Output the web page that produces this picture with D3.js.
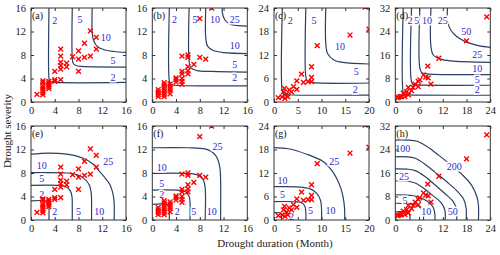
<!DOCTYPE html>
<html><head><meta charset="utf-8">
<script src="https://cdn.jsdelivr.net/npm/d3@7"></script>
<style>body{margin:0;background:#fff}svg{display:block}</style>
</head><body><svg id="chart" width="500" height="255"></svg>
<script>
// ---------------- DATA ----------------
const panelLetters = ["(a)","(b)","(c)","(d)","(e)","(f)","(g)","(h)"];
const xTicks16 = [0,4,8,12,16];
const xTicks20 = [0,5,10,15,20];
const xTicks24 = [0,6,12,18,24];
const yTicks16 = [0,4,8,12,16];
const yTicks24 = [0,6,12,18,24];
const yTicks32 = [0,8,16,24,32];
const xTitle = "Drought duration (Month)";
const yTitle = "Drought severity";

// drought events [duration, severity]
const eventsA = [[1,1.3],[2,1.2],[2,1.6],[2,2.0],[2,2.4],[2,2.8],[2,3.3],[2,3.6],
  [3,2.3],[3,2.6],[3,2.9],[3,3.2],[3,3.5],[4,3.5],[4,3.8],[4,5.2],
  [5,3.8],[5,5.6],[5,6.2],[5,6.8],[5,7.8],[5,9.0],[6,6.0],[6,6.6],[7,7.7],
  [8,5.2],[8,7.3],[8,8.7],[9,7.6],[9,10.0],[10,7.8],[10,12.1],[11,9.0],[11,11.0]];
const eventsB = [[1,0.9],[1,1.3],[1,1.7],[1,2.1],[2,0.9],[2,1.3],[2,1.7],[2,2.1],[2,2.5],[2,2.9],[2,3.3],
  [3,1.4],[3,1.9],[3,2.3],[3,2.7],[3,3.1],[4,3.4],[4,3.8],[4,4.1],
  [5,3.0],[5,3.5],[5,4.0],[5,4.8],[5,5.2],[5,7.8],[6,4.8],[6,5.3],[6,6.0],[6,7.6],[6,8.0],
  [7,6.4],[8,7.6],[8,14.2],[9,7.3],[10,16.0]];
const eventsC = [[0.9,1.1],[1.7,1.3],[2.0,2.6],[2.2,3.5],[2.3,0.9],[2.7,2.0],[2.9,1.3],[3.2,3.1],
  [3.7,2.6],[4.1,3.9],[4.8,3.2],[4.8,5.4],[5.8,7.1],[6.2,5.0],[7.2,5.2],[7.9,5.2],[7.9,6.3],
  [7.9,9.0],[9.1,14.4],[16,17.1],[19.2,24.2],[20,18.6]];
const eventsD = [[0.5,1.5],[0.8,1.6],[1.2,1.8],[1.6,1.8],[2.0,3.0],[2.4,1.8],[2.9,3.5],[3.3,2.4],
  [3.3,5.0],[4.1,3.9],[4.5,5.0],[5.0,6.1],[5.8,5.2],[5.8,7.0],[6.2,7.5],[7.1,9.2],[7.7,8.5],
  [8.3,8.2],[8.2,12.2],[9.0,6.1],[11.0,14.9],[18.0,20.8],[23.1,29.0]];

// "OR" return-period contours (top row)
const orA = [
  {level:"2",  pts:[[3.03,16],[3.03,4.0],[3.15,3.5],[3.6,3.37],[16,3.33]]},
  {level:"5",  pts:[[6.95,16],[6.95,7.5],[7.1,6.6],[7.6,6.2],[8.5,6.05],[16,5.95]]},
  {level:"10", pts:[[10.3,16],[10.3,12],[10.5,10.6],[11.2,9.4],[12.5,8.85],[14,8.6],[16,8.45]]}];
const orB = [
  {level:"2",  pts:[[2.87,16],[2.87,3.6],[3.1,3.0],[3.8,2.85],[16,2.75]]},
  {level:"5",  pts:[[6.2,16],[6.2,7],[6.5,5.8],[7.5,5.35],[10,5.2],[16,5.1]]},
  {level:"10", pts:[[9.0,16],[9.0,11],[9.3,9.5],[10.2,8.8],[12,8.4],[16,8.25]]},
  {level:"25", pts:[[11.8,16],[11.8,15.2],[12.2,14],[13,13.3],[14.5,13.0],[16,12.9]]}];
const orC = [
  {level:"2",  pts:[[1.75,24],[1.75,2.6],[2.0,2.0],[2.8,1.85],[20,1.75]]},
  {level:"5",  pts:[[6.7,24],[6.7,6.5],[7.0,5.4],[8,5.0],[20,4.85]]},
  {level:"10", pts:[[10.9,24],[10.9,15],[11.3,12.3],[12.5,10.8],[14.5,10.1],[20,9.7]]}];
const orD = [
  {level:"2",  pts:[[2.0,32],[2.0,3.2],[2.3,2.5],[3.2,2.4],[24,2.3]]},
  {level:"5",  pts:[[4.1,32],[4.1,6.8],[4.5,6.0],[5.5,5.8],[24,5.7]]},
  {level:"10", pts:[[6.2,32],[6.2,11.5],[6.7,10.0],[8,9.6],[24,9.3]]},
  {level:"25", pts:[[9.0,32],[9.0,19],[9.6,16],[11.5,14.6],[14,14.0],[24,13.5]]},
  {level:"50", pts:[[13.2,32],[13.2,27.5],[14,24.5],[15.5,22.3],[18,20.4],[21,19.2],[24,18.6]]}];

// "AND" return-period contours (bottom row)
const andE = [
  {level:"2",  pts:[[0,3.25],[2.7,3.22],[3.0,2.9],[3.03,2.0],[3.03,0]]},
  {level:"5",  pts:[[0,5.9],[4.5,5.9],[5.8,5.7],[6.6,5.0],[6.9,4.0],[6.95,2],[6.95,0]]},
  {level:"10", pts:[[0,8.05],[6,8.0],[7.8,7.7],[9.0,7.0],[9.8,6.0],[10.15,4.5],[10.2,2],[10.2,0]]},
  {level:"25", pts:[[0,11.2],[3,11.4],[6,11.2],[8.8,10.5],[10.5,9.5],[11.6,8.2],[12.6,7.0],[13.3,6.0],[13.8,4.5],[14.0,3.0],[14.0,0]]}];
const andF = [
  {level:"2",  pts:[[0,2.67],[2.3,2.65],[2.75,2.3],[2.86,1.5],[2.86,0]]},
  {level:"5",  pts:[[0,5.1],[4.5,5.05],[5.6,4.8],[6.2,4.0],[6.35,3],[6.35,0]]},
  {level:"10", pts:[[0,7.95],[6.5,7.9],[7.8,7.6],[8.6,6.8],[8.9,5.5],[8.9,0]]},
  {level:"25", pts:[[0,12.3],[6,12.3],[8.9,12.1],[10.2,11.5],[11.0,10.4],[11.4,8.8],[11.5,7],[11.5,0]]}];
const andG = [
  {level:"2",  pts:[[0,1.87],[1.1,1.85],[1.5,1.6],[1.6,1.0],[1.6,0]]},
  {level:"5",  pts:[[0,4.7],[4.5,4.65],[5.8,4.4],[6.5,3.5],[6.7,2],[6.7,0]]},
  {level:"10", pts:[[0,8.5],[5,8.45],[7.5,8.0],[9.0,6.8],[9.8,5.0],[10,3],[10,0]]},
  {level:"25", pts:[[0,18.5],[3,18.2],[6.9,16.8],[10.4,14.9],[12.2,12.6],[13.2,10.6],[14.1,8],[14.6,5.5],[14.85,3],[14.9,0]]}];
const andH = [
  {level:"2",   pts:[[0,2.8],[2.5,2.8],[3.4,2.3],[3.7,1.2],[3.7,0]]},
  {level:"5",   pts:[[0,5.7],[3,5.6],[5,5.2],[6.5,4],[7.1,2],[7.1,0]]},
  {level:"10",  pts:[[0,8.6],[3,8.5],[5.5,8],[8,6.5],[9.5,4.5],[10,2],[10,0]]},
  {level:"25",  pts:[[0,13.3],[3,13.2],[5,12.6],[7.5,10.5],[9.5,8.3],[11.5,6],[12.5,3.5],[12.6,0]]},
  {level:"50",  pts:[[0,17.4],[3,17.3],[5,16.8],[7.5,14.8],[10,12],[12.5,9],[14.5,6.5],[15.4,4],[15.5,0]]},
  {level:"100", pts:[[0,21.5],[3,21.5],[5,21],[7.5,19],[10,16.3],[13,13],[15.5,10],[17.3,7],[17.9,4],[17.9,0]]},
  {level:"200", pts:[[0,27.2],[3,27.2],[5.5,26.8],[8,25],[11,22],[14,18.8],[17,15.3],[19.3,11.8],[20.6,8],[21,5],[21,0]]}];

// contour labels [duration, severity, text]
const labA = [[4.0,13.8,"2"],[8.25,14.0,"5"],[12.6,10.9,"10"],[13.8,7.0,"5"],[13.8,4.25,"2"]];
const labB = [[3.75,14,"2"],[7.2,14,"5"],[10.55,14,"10"],[13.9,14,"25"],[13.9,9.7,"10"],[13.9,6.4,"5"],[13.9,4.2,"2"]];
const labC = [[3.4,20.9,"2"],[8.4,20.9,"5"],[13.9,14.1,"10"],[17.3,7.7,"5"],[17.1,3.1,"2"]];
const labD = [[3.7,27.9,"2"],[5.4,27.9,"5"],[8.0,27.9,"10"],[12.0,27.9,"25"],[17.9,23.9,"50"],[20.7,16.3,"25"],[20.7,11.5,"10"],[20.7,7.5,"5"],[20.7,4.1,"2"]];
const labE = [[1.8,9.2,"10"],[1.8,7.1,"5"],[1.8,4.4,"2"],[4.0,1.5,"2"],[8.0,1.4,"5"],[11.5,1.4,"10"],[13.0,9.9,"25"]];
const labF = [[1.6,8.9,"10"],[1.6,6.2,"5"],[1.6,4.3,"2"],[4.2,1.4,"2"],[7.0,1.4,"5"],[10.0,1.4,"10"],[11.0,12.5,"25"]];
const labG = [[1.8,10.2,"10"],[1.8,6.4,"5"],[3.7,0.9,"2"],[7.7,2.3,"5"],[11.9,2.3,"10"],[12.7,14.9,"25"]];
const labH = [[1.9,24.4,"100"],[2.2,14.7,"25"],[2.45,6.8,"5"],[7.8,2.8,"10"],[14.5,2.8,"50"],[14.9,18.1,"200"]];

// ---------------- LAYOUT ----------------
const panels = [
  {xd:[0,16],yd:[0,16],xt:xTicks16,yt:yTicks16,ev:eventsA,ct:orA,lab:labA},
  {xd:[0,16],yd:[0,16],xt:xTicks16,yt:yTicks16,ev:eventsB,ct:orB,lab:labB},
  {xd:[0,20],yd:[0,24],xt:xTicks20,yt:yTicks24,ev:eventsC,ct:orC,lab:labC},
  {xd:[0,24],yd:[0,32],xt:xTicks24,yt:yTicks32,ev:eventsD,ct:orD,lab:labD},
  {xd:[0,16],yd:[0,16],xt:xTicks16,yt:yTicks16,ev:eventsA,ct:andE,lab:labE},
  {xd:[0,16],yd:[0,16],xt:xTicks16,yt:yTicks16,ev:eventsB,ct:andF,lab:labF},
  {xd:[0,20],yd:[0,24],xt:xTicks20,yt:yTicks24,ev:eventsC,ct:andG,lab:labG},
  {xd:[0,24],yd:[0,32],xt:xTicks24,yt:yTicks32,ev:eventsD,ct:andH,lab:labH}];
const colLeft = [31,152.3,274,395.3], pw = 95;
const rowTop = [8,126], ph = 94;
const FONT = "'Liberation Serif','Times New Roman',serif";
const lineCol = "#2b4064", labCol = "#2a2ad0";

const svg = d3.select("#chart");
svg.append("rect").attr("width",500).attr("height",255).attr("fill","#fff");

panels.forEach((p,i)=>{
  const L = colLeft[i%4], T = rowTop[Math.floor(i/4)];
  const x = d3.scaleLinear().domain(p.xd).range([L, L+pw]);
  const y = d3.scaleLinear().domain(p.yd).range([T+ph, T]);
  const g = svg.append("g");
  const cid = "clip"+i;
  svg.append("clipPath").attr("id",cid).append("rect").attr("x",L).attr("y",T).attr("width",pw).attr("height",ph);
  const inner = g.append("g").attr("clip-path",`url(#${cid})`);
  const line = d3.line().x(d=>x(d[0])).y(d=>y(d[1])).curve(d3.curveCatmullRom.alpha(0.5));
  inner.selectAll("path.ct").data(p.ct).join("path").attr("class","ct")
    .attr("d",d=>line(d.pts)).attr("fill","none").attr("stroke",lineCol).attr("stroke-width",1.2);
  inner.selectAll("text.lab").data(p.lab).join("text").attr("class","lab")
    .attr("x",d=>x(d[0])).attr("y",d=>y(d[1])).attr("dy","0.35em").attr("text-anchor","middle")
    .attr("font-family",FONT).attr("font-size",10).attr("fill",labCol)
    .attr("stroke","#fff").attr("stroke-width",3).attr("paint-order","stroke").text(d=>d[2]);
  const s = 2.4;
  inner.selectAll("path.ev").data(p.ev).join("path").attr("class","ev")
    .attr("d",d=>{const cx=x(d[0]),cy=y(d[1]);return `M${cx-s},${cy-s}L${cx+s},${cy+s}M${cx-s},${cy+s}L${cx+s},${cy-s}`;})
    .attr("stroke","#ff0000").attr("stroke-width",1.4).attr("fill","none");
  // axes
  const ax = (gen, tr)=>{const a=g.append("g").attr("transform",tr).call(gen);
    a.select(".domain").remove(); a.selectAll("line").attr("stroke","#333");
    a.selectAll("text").attr("font-family",FONT).attr("font-size",10.5).attr("fill","#222"); return a;};
  ax(d3.axisBottom(x).tickValues(p.xt).tickSizeInner(-3).tickSizeOuter(0).tickPadding(5), `translate(0,${T+ph})`);
  ax(d3.axisLeft(y).tickValues(p.yt).tickSizeInner(-3).tickSizeOuter(0).tickPadding(5), `translate(${L},0)`);
  ax(d3.axisTop(x).tickValues(p.xt).tickSizeInner(-3).tickSizeOuter(0).tickFormat(""), `translate(0,${T})`);
  ax(d3.axisRight(y).tickValues(p.yt).tickSizeInner(-3).tickSizeOuter(0).tickFormat(""), `translate(${L+pw},0)`);
  g.append("rect").attr("x",L).attr("y",T).attr("width",pw).attr("height",ph)
    .attr("fill","none").attr("stroke","#333").attr("stroke-width",1);
  g.append("text").attr("x",L+1).attr("y",T+10.5).attr("font-family",FONT).attr("font-size",10)
    .attr("fill","#111").text(panelLetters[i]);
});

svg.append("text").attr("x",275).attr("y",247).attr("text-anchor","middle")
  .attr("font-family",FONT).attr("font-size",11).attr("fill","#222").text(xTitle);
svg.append("text").attr("transform","translate(11,131) rotate(-90)").attr("text-anchor","middle")
  .attr("font-family",FONT).attr("font-size",11).attr("fill","#222").text(yTitle);
</script></body></html>
